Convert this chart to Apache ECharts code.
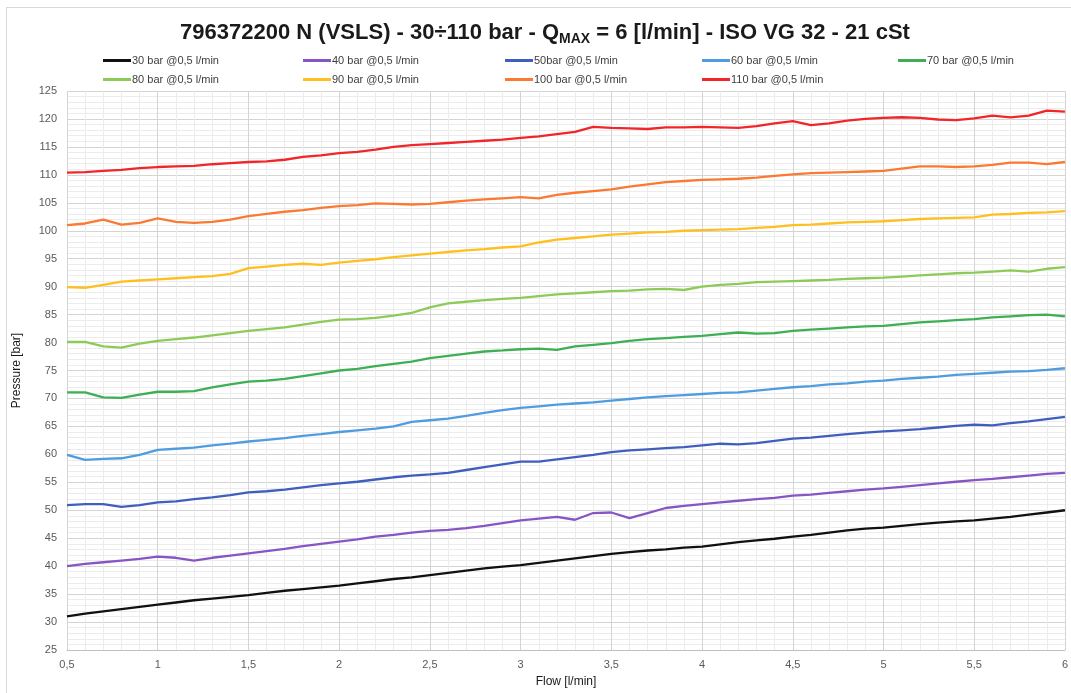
<!DOCTYPE html>
<html>
<head>
<meta charset="utf-8">
<script src="https://cdn.jsdelivr.net/npm/echarts@6/dist/echarts.min.js"></script>
<style>
  html, body { margin: 0; padding: 0; background: #fff; }
  #chart { width: 1071px; height: 693px; }
  #frame { position: absolute; left: 6px; top: 7px; width: 1070px; height: 690px; border: 1px solid #d9d9d9; pointer-events: none; }
</style>
</head>
<body>
<div id="chart"></div>
<div id="frame"></div>
<script>
var flow = [0.5,0.6,0.7,0.8,0.9,1.0,1.1,1.2,1.3,1.4,1.5,1.6,1.7,1.8,1.9,2.0,2.1,2.2,2.3,2.4,2.5,2.6,2.7,2.8,2.9,3.0,3.1,3.2,3.3,3.4,3.5,3.6,3.7,3.8,3.9,4.0,4.1,4.2,4.3,4.4,4.5,4.6,4.7,4.8,4.9,5.0,5.1,5.2,5.3,5.4,5.5,5.6,5.7,5.8,5.9,6.0];

var p30  = [31.0,31.5,31.9,32.3,32.7,33.1,33.5,33.9,34.2,34.5,34.8,35.2,35.6,35.9,36.2,36.5,36.9,37.3,37.7,38.0,38.4,38.8,39.2,39.6,39.9,40.2,40.6,41.0,41.4,41.8,42.2,42.5,42.8,43.0,43.3,43.5,43.9,44.3,44.6,44.9,45.3,45.6,46.0,46.4,46.7,46.9,47.2,47.5,47.8,48.0,48.2,48.5,48.8,49.2,49.6,50.0];
var p40  = [40.0,40.4,40.7,41.0,41.3,41.7,41.5,41.0,41.5,41.9,42.3,42.7,43.1,43.6,44.0,44.4,44.8,45.3,45.6,46.0,46.3,46.5,46.8,47.2,47.7,48.2,48.5,48.8,48.3,49.5,49.6,48.6,49.5,50.4,50.8,51.1,51.4,51.7,52.0,52.2,52.6,52.8,53.1,53.4,53.7,53.9,54.2,54.5,54.8,55.1,55.4,55.6,55.9,56.2,56.5,56.7];
var p50  = [50.9,51.1,51.1,50.6,50.9,51.4,51.6,52.0,52.3,52.7,53.2,53.4,53.7,54.1,54.5,54.8,55.1,55.5,55.9,56.2,56.4,56.7,57.2,57.7,58.2,58.7,58.7,59.1,59.5,59.9,60.4,60.7,60.9,61.1,61.3,61.6,61.9,61.8,62.0,62.4,62.8,63.0,63.3,63.6,63.9,64.1,64.3,64.5,64.8,65.1,65.3,65.2,65.6,65.9,66.3,66.7];
var p60  = [59.9,59.0,59.2,59.3,59.9,60.8,61.0,61.2,61.6,61.9,62.3,62.6,62.9,63.3,63.6,64.0,64.3,64.6,65.0,65.8,66.1,66.4,66.9,67.4,67.9,68.3,68.6,68.9,69.1,69.3,69.6,69.9,70.2,70.4,70.6,70.8,71.0,71.1,71.4,71.7,72.0,72.2,72.5,72.7,73.0,73.2,73.5,73.7,73.9,74.2,74.4,74.6,74.8,74.9,75.1,75.4];
var p70  = [71.1,71.1,70.2,70.1,70.7,71.2,71.2,71.3,72.0,72.5,73.0,73.2,73.5,74.0,74.5,75.0,75.3,75.8,76.2,76.6,77.2,77.6,78.0,78.4,78.6,78.8,78.9,78.7,79.3,79.6,79.9,80.3,80.6,80.8,81.0,81.2,81.5,81.8,81.6,81.7,82.1,82.3,82.5,82.7,82.9,83.0,83.3,83.6,83.8,84.0,84.2,84.5,84.7,84.9,85.0,84.7];
var p80  = [80.1,80.1,79.3,79.1,79.8,80.3,80.6,80.9,81.3,81.7,82.1,82.4,82.7,83.2,83.7,84.1,84.2,84.4,84.8,85.3,86.3,87.0,87.3,87.6,87.8,88.0,88.3,88.6,88.8,89.0,89.2,89.3,89.5,89.6,89.4,90.0,90.3,90.5,90.8,90.9,91.0,91.1,91.2,91.4,91.5,91.6,91.8,92.0,92.2,92.4,92.5,92.7,92.9,92.7,93.2,93.5];
var p90  = [89.9,89.8,90.3,90.9,91.1,91.3,91.5,91.7,91.9,92.3,93.3,93.6,93.9,94.1,93.9,94.3,94.6,94.9,95.3,95.6,95.9,96.2,96.5,96.7,97.0,97.2,97.9,98.4,98.7,99.0,99.3,99.5,99.7,99.8,100.0,100.1,100.2,100.3,100.5,100.7,101.0,101.1,101.3,101.5,101.6,101.7,101.9,102.1,102.2,102.3,102.4,102.9,103.0,103.2,103.3,103.5];
var p100 = [101.0,101.3,102.0,101.1,101.4,102.2,101.6,101.4,101.6,102.0,102.6,103.0,103.4,103.7,104.1,104.4,104.6,104.9,104.8,104.7,104.8,105.1,105.4,105.6,105.8,106.0,105.8,106.4,106.8,107.1,107.4,107.9,108.3,108.7,108.9,109.1,109.2,109.3,109.5,109.8,110.1,110.3,110.4,110.5,110.6,110.7,111.1,111.5,111.5,111.4,111.5,111.8,112.2,112.2,111.9,112.3];
var p110 = [110.4,110.5,110.7,110.9,111.2,111.4,111.5,111.6,111.9,112.1,112.3,112.4,112.7,113.2,113.5,113.9,114.1,114.5,115.0,115.3,115.5,115.7,115.9,116.1,116.3,116.6,116.9,117.3,117.7,118.6,118.4,118.3,118.2,118.5,118.5,118.6,118.5,118.4,118.7,119.2,119.6,118.9,119.2,119.7,120.0,120.2,120.3,120.2,119.9,119.8,120.1,120.6,120.3,120.6,121.5,121.3];

var names = ['30 bar @0,5 l/min','40 bar @0,5 l/min','50bar @0,5 l/min','60 bar @0,5 l/min','70 bar @0,5 l/min',
             '80 bar @0,5 l/min','90 bar @0,5 l/min','100 bar @0,5 l/min','110 bar @0,5 l/min'];
var values = [p30, p40, p50, p60, p70, p80, p90, p100, p110];
var colors = ['#111111','#8756c4','#3f5fbf','#4f9ddf','#3faf55','#8ccb58','#ffbf1f','#fb7a32','#f2262a'];

var font = 'Arial, "Liberation Sans", sans-serif';

var series = [];
for (var k = 0; k < names.length; k++) {
    series.push({
        name: names[k],
        type: 'line',
        showSymbol: false,
        symbol: 'none',
        lineStyle: { width: 2.3, color: colors[k] },
        itemStyle: { color: colors[k] },
        data: flow.map(function(x, i){ return [x, values[k][i]]; })
    });
}

// one legend per item, laid out on a 5-column grid like the original
var colLeft = [98, 298, 500, 697, 893];
var legends = [];
for (var j = 0; j < names.length; j++) {
    legends.push({
        top: j < 5 ? 50 : 69,
        left: colLeft[j % 5],
        itemWidth: 28,
        itemHeight: 3,
        icon: 'rect',
        textStyle: { fontFamily: font, fontSize: 11, color: '#404040', padding: [0, 0, 0, -4] },
        data: [names[j]]
    });
}

var myChart = echarts.init(document.getElementById('chart'));
myChart.setOption({
    animation: false,
    backgroundColor: '#ffffff',
    color: colors,
    title: {
        text: '796372200 N (VSLS) - 30÷110 bar - Q{sub|MAX} = 6 [l/min] - ISO VG 32 - 21 cSt',
        left: 540,
        textAlign: 'center',
        top: 14,
        textStyle: {
            fontFamily: font, fontSize: 22, fontWeight: 'bold', color: '#1a1a1a',
            rich: {
                sub: { fontFamily: font, fontSize: 14, fontWeight: 'bold', color: '#1a1a1a', padding: [13, 0, 0, 0] }
            }
        }
    },
    legend: legends,
    grid: { left: 67, right: 4, top: 91, bottom: 41 },
    xAxis: {
        type: 'value',
        min: 0.5,
        max: 6,
        interval: 0.5,
        name: 'Flow [l/min]',
        nameLocation: 'middle',
        nameGap: 26,
        nameTextStyle: { fontFamily: font, fontSize: 12, color: '#1a1a1a' },
        axisLine: { show: true, lineStyle: { color: '#bfbfbf' } },
        axisTick: { show: false },
        axisLabel: {
            fontFamily: font, fontSize: 11, color: '#595959', margin: 9,
            formatter: function(v){ return String(v).replace('.', ','); }
        },
        splitLine: { show: true, lineStyle: { color: '#d4d4d4', width: 1 } },
        minorTick: { show: false, splitNumber: 5 },
        minorSplitLine: { show: true, lineStyle: { color: '#ececec', width: 1 } }
    },
    yAxis: {
        type: 'value',
        min: 25,
        max: 125,
        interval: 5,
        name: 'Pressure [bar]',
        nameLocation: 'middle',
        nameGap: 44,
        nameRotate: 90,
        nameTextStyle: { fontFamily: font, fontSize: 12, color: '#1a1a1a' },
        axisLine: { show: false },
        axisTick: { show: false },
        axisLabel: { fontFamily: font, fontSize: 11, color: '#595959', margin: 10 },
        splitLine: { show: true, lineStyle: { color: '#d4d4d4', width: 1 } },
        minorTick: { show: false, splitNumber: 5 },
        minorSplitLine: { show: true, lineStyle: { color: '#ececec', width: 1 } }
    },
    series: series
});
</script>
</body>
</html>
